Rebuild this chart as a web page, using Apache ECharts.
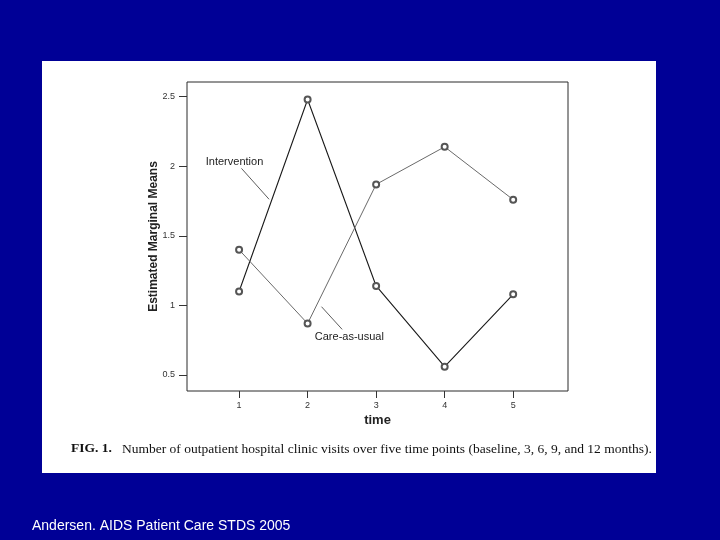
<!DOCTYPE html>
<html>
<head>
<meta charset="utf-8">
<script src="https://cdn.jsdelivr.net/npm/echarts@6/dist/echarts.min.js"></script>
<style>
  html, body { margin: 0; padding: 0; background: #000096; }
  #chart { width: 720px; height: 540px; }
</style>
</head>
<body>
<div id="chart"></div>
<script>
// time points and estimated marginal means
const times = [1, 2, 3, 4, 5]
const intervention = [1.10, 2.48, 1.14, 0.56, 1.08]
const careAsUsual = [1.40, 0.87, 1.87, 2.14, 1.76]
const yTicks = [0.5, 1, 1.5, 2, 2.5]

const sans = 'Arial, "Liberation Sans", sans-serif'
const chart = echarts.init(document.getElementById('chart'))

const option = {
  backgroundColor: '#000096',
  animation: false,
  grid: {
    left: 187,
    top: 82,
    right: 152,
    bottom: 149,
    show: true,
    backgroundColor: '#fff',
    borderColor: '#2a2a2a',
    borderWidth: 1
  },
  xAxis: {
    type: 'value',
    min: 0.24,
    max: 5.8,
    name: 'time',
    nameLocation: 'middle',
    nameGap: 23,
    nameMoveOverlap: false,
    nameTextStyle: { fontFamily: sans, fontWeight: 'bold', fontSize: 13, color: '#222' },
    axisLine: { show: false },
    splitLine: { show: false },
    axisTick: { show: true, length: 7, customValues: times, lineStyle: { color: '#333' } },
    axisLabel: { customValues: times, margin: 10, fontFamily: sans, fontSize: 9, color: '#333' }
  },
  yAxis: {
    type: 'value',
    min: 0.385,
    max: 2.606,
    name: 'Estimated Marginal Means',
    nameLocation: 'middle',
    nameGap: 27,
    nameMoveOverlap: false,
    nameTextStyle: { fontFamily: sans, fontWeight: 'bold', fontSize: 12, color: '#222' },
    axisLine: { show: false },
    splitLine: { show: false },
    axisTick: { show: true, length: 8, customValues: yTicks, lineStyle: { color: '#333' } },
    axisLabel: { customValues: yTicks, margin: 12, fontFamily: sans, fontSize: 9, color: '#333' }
  },
  series: [
    {
      name: 'Intervention',
      type: 'line',
      data: times.map((t, i) => [t, intervention[i]]),
      symbol: 'emptyCircle',
      symbolSize: 6,
      lineStyle: { color: '#1a1a1a', width: 1.1 },
      itemStyle: { color: '#555', borderWidth: 0.8 }
    },
    {
      name: 'Care-as-usual',
      type: 'line',
      data: times.map((t, i) => [t, careAsUsual[i]]),
      symbol: 'emptyCircle',
      symbolSize: 6,
      lineStyle: { color: '#6a6a6a', width: 1 },
      itemStyle: { color: '#555', borderWidth: 0.8 }
    }
  ]
}
chart.setOption(option)

// leader-line annotations, placed in data units
const notes = [
  { text: 'Intervention', at: [0.514, 2.032], from: [1.035, 1.985], to: [1.438, 1.763] },
  { text: 'Care-as-usual', at: [2.105, 0.775], from: [2.504, 0.828], to: [2.203, 0.991] }
]
const px = (p) => chart.convertToPixel({ gridIndex: 0 }, p)

const graphics = [
  { type: 'rect', z: -10, shape: { x: 42, y: 61, width: 614, height: 412 }, style: { fill: '#fff' } }
]
notes.forEach((n) => {
  const a = px(n.at), f = px(n.from), t = px(n.to)
  graphics.push({
    type: 'text', x: a[0], y: a[1],
    style: { text: n.text, fontFamily: sans, fontSize: 11, fill: '#222', verticalAlign: 'middle' }
  })
  graphics.push({
    type: 'line', shape: { x1: f[0], y1: f[1], x2: t[0], y2: t[1] },
    style: { stroke: '#333', lineWidth: 0.8 }
  })
})
graphics.push({
  type: 'text', x: 71, y: 449,
  style: {
    text: '{b|FIG. 1.}   Number of outpatient hospital clinic visits over five time points (baseline, 3, 6, 9, and 12 months).',
    fontFamily: '"Liberation Serif", "Times New Roman", serif', fontSize: 13.5, fill: '#111', verticalAlign: 'middle',
    rich: { b: { fontWeight: 'bold', fontFamily: '"Liberation Serif", serif', fontSize: 13.5, fill: '#111' } }
  }
})
graphics.push({
  type: 'text', x: 32, y: 526,
  style: { text: 'Andersen. AIDS Patient Care STDS 2005', fontFamily: sans, fontSize: 14, fill: '#fff', verticalAlign: 'middle' }
})
chart.setOption({ graphic: graphics })
</script>
</body>
</html>
